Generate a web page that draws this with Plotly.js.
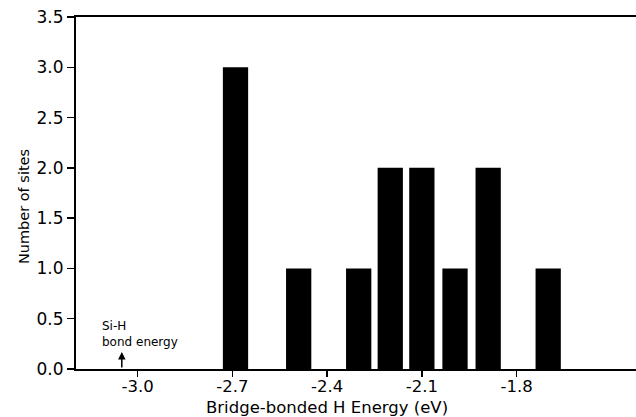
<!DOCTYPE html>
<html>
<head>
<meta charset="utf-8">
<script src="https://cdn.plot.ly/plotly-3.0.1.min.js"></script>
<style>html,body{margin:0;padding:0;background:#fff;overflow:hidden;}#wrap{width:636px;height:417px;overflow:hidden;}#chart{width:660px;height:417px;}</style>
</head>
<body>
<div id="wrap"><div id="chart"></div></div>
<script>
// Bridge-bonded H energies (eV) and number of sites per bin
const energies = [-2.69, -2.49, -2.30, -2.20, -2.10, -1.995, -1.89, -1.70];
const siteCounts = [3, 1, 1, 2, 2, 1, 2, 1];
const xTickVals = [-3.0, -2.7, -2.4, -2.1, -1.8];
const xTickText = ['-3.0', '-2.7', '-2.4', '-2.1', '-1.8'];
const yTickVals = [0, 0.5, 1.0, 1.5, 2.0, 2.5, 3.0, 3.5];
const yTickText = ['0.0', '0.5', '1.0', '1.5', '2.0', '2.5', '3.0', '3.5'];
const siHEnergy = -3.05;
const xTitle = 'Bridge-bonded H Energy (eV)';
const yTitle = 'Number of sites';
const siHLabel = 'Si-H<br>bond energy';

const font = {family: 'DejaVu Sans, sans-serif', color: '#000'};
const f = (s) => Object.assign({size: s}, font);

const trace = {
  type: 'bar',
  x: energies,
  y: siteCounts,
  width: energies.map(() => 0.08),
  marker: {color: '#000', line: {width: 0}},
  hoverinfo: 'x+y'
};

// plot area runs from x=76 to x=660; the canvas is clipped at 636 like the reference
const layout = {
  width: 660, height: 417,
  margin: {l: 76, r: 0, t: 17, b: 48},
  paper_bgcolor: '#fff', plot_bgcolor: '#fff',
  showlegend: false,
  font: f(14),
  xaxis: {
    range: [-3.195, -1.346],
    tickvals: xTickVals, ticktext: xTickText,
    ticks: 'outside', ticklen: 6, tickwidth: 1.5, tickcolor: '#000',
    ticklabelstandoff: -5,
    showline: true, linewidth: 2, linecolor: '#000', mirror: true,
    showgrid: false, zeroline: false,
    tickfont: f(16.5)
  },
  yaxis: {
    range: [0, 3.5],
    tickvals: yTickVals, ticktext: yTickText,
    ticks: 'outside', ticklen: 7, tickwidth: 1.5, tickcolor: '#000',
    showline: true, linewidth: 2, linecolor: '#000',
    showgrid: false, zeroline: false,
    tickfont: f(17)
  },
  annotations: [
    {
      x: siHEnergy, y: 0.17, xref: 'x', yref: 'y',
      text: '', showarrow: true, ax: 0, ay: 17,
      arrowhead: 2, arrowsize: 1, arrowwidth: 1.5, arrowcolor: '#000'
    },
    {
      x: -3.12, y: 0.18, xref: 'x', yref: 'y',
      text: siHLabel, showarrow: false,
      xanchor: 'left', yanchor: 'bottom', align: 'left',
      font: f(12)
    },
    {
      x: -2.40, y: 0, xref: 'x', yref: 'y', yshift: -38,
      text: xTitle, showarrow: false, xanchor: 'center', yanchor: 'middle',
      font: f(16.5)
    },
    {
      x: -0.089, y: 0.46, xref: 'paper', yref: 'paper',
      text: yTitle, showarrow: false, textangle: -90,
      xanchor: 'center', yanchor: 'middle',
      font: f(14.5)
    }
  ]
};

Plotly.newPlot('chart', [trace], layout, {displayModeBar: false, staticPlot: true});
</script>
</body>
</html>
